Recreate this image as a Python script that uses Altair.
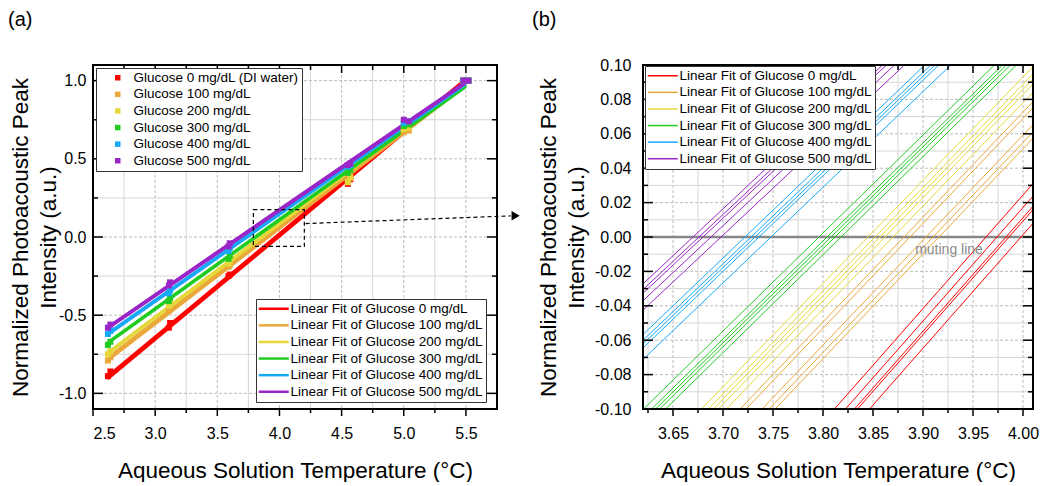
import altair as alt
import pandas as pd

FONT = "Liberation Sans"

# ---------------- data ----------------
PANEL_LABELS = ["(a)", "(b)"]
POINT_LABELS = ["Glucose 0 mg/dL (DI water)", "Glucose 100 mg/dL", "Glucose 200 mg/dL",
                "Glucose 300 mg/dL", "Glucose 400 mg/dL", "Glucose 500 mg/dL"]
FIT_LABELS = ["Linear Fit of Glucose 0 mg/dL", "Linear Fit of Glucose 100 mg/dL",
              "Linear Fit of Glucose 200 mg/dL", "Linear Fit of Glucose 300 mg/dL",
              "Linear Fit of Glucose 400 mg/dL", "Linear Fit of Glucose 500 mg/dL"]
COLORS = ["#FF0000", "#EBA83A", "#E6D83A", "#22CC22", "#18A8F8", "#9B26C8"]

# linear fits: slope per concentration, muting temperature (y = 0) per replicate
SLOPES = [0.660, 0.610, 0.600, 0.570, 0.556, 0.545]
MUTING_T = [
    [3.963, 3.974, 3.983, 3.986, 3.998],
    [3.881, 3.887, 3.903, 3.910, 3.916],
    [3.845, 3.852, 3.857, 3.862, 3.870],
    [3.796, 3.804, 3.808, 3.812, 3.818],
    [3.722, 3.728, 3.732, 3.736, 3.748],
    [3.670, 3.676, 3.680, 3.688, 3.698],
]
FIT_T_RANGE = [2.62, 5.50]

# measured points (two replicate sets)
TEMPS_A = [2.62, 3.11, 3.59, 4.55, 5.00, 5.48]
TEMPS_B = [2.64, 3.12, 3.60, 4.57, 5.04, 5.52]
POINTS_A = [
    [-0.89, -0.58, -0.25, 0.34, 0.68, 1.00],
    [-0.79, -0.47, -0.19, 0.36, 0.67, 1.00],
    [-0.75, -0.44, -0.17, 0.35, 0.69, 1.00],
    [-0.69, -0.41, -0.14, 0.41, 0.71, 1.00],
    [-0.62, -0.36, -0.09, 0.45, 0.73, 1.00],
    [-0.58, -0.31, -0.06, 0.46, 0.75, 1.00],
]
POINTS_B = [
    [-0.86, -0.55, -0.24, 0.37, 0.70, 1.00],
    [-0.77, -0.46, -0.18, 0.38, 0.68, 1.00],
    [-0.73, -0.43, -0.15, 0.38, 0.70, 1.00],
    [-0.67, -0.39, -0.12, 0.43, 0.72, 1.00],
    [-0.60, -0.34, -0.07, 0.46, 0.74, 1.00],
    [-0.56, -0.29, -0.04, 0.47, 0.74, 1.00],
]

# zoom region marked on panel (a) and the arrow to panel (b)
ZOOM_BOX_T = [3.79, 4.20]
ZOOM_BOX_Y = [-0.06, 0.175]
ARROW_T = [4.21, 5.86]
ARROW_Y = [0.086, 0.135]
ARROW_HEAD = [5.90, 0.136]

# axes
A_XDOM, A_YDOM = [2.5, 5.75], [-1.1, 1.1]
A_XMAJ = [2.5, 3.0, 3.5, 4.0, 4.5, 5.0, 5.5]
A_XMIN = [2.75, 3.25, 3.75, 4.25, 4.75, 5.25]
A_YMAJ = [-1.0, -0.5, 0.0, 0.5, 1.0]
A_YMIN = [-0.75, -0.25, 0.25, 0.75]
B_XDOM, B_YDOM = [3.62, 4.01], [-0.1, 0.1]
B_XMAJ = [3.65, 3.70, 3.75, 3.80, 3.85, 3.90, 3.95, 4.00]
B_XMIN = [3.625, 3.675, 3.725, 3.775, 3.825, 3.875, 3.925, 3.975]
B_YMAJ = [-0.10, -0.08, -0.06, -0.04, -0.02, 0.0, 0.02, 0.04, 0.06, 0.08, 0.10]
B_YMIN = [-0.09, -0.07, -0.05, -0.03, -0.01, 0.01, 0.03, 0.05, 0.07, 0.09]
MUTING_LABEL = ["muting line", 3.926, -0.0078]

X_TITLE = "Aqueous Solution Temperature (\u00b0C)"
Y_TITLE = ["Normalized Photoacoustic Peak", "Intensity (a.u.)"]

# ---------------- tables ----------------
fit_rows_a, fit_rows_b, pt_rows = [], [], []
for g in range(6):
    s = SLOPES[g]
    for r, t0 in enumerate(MUTING_T[g]):
        key = f"{g}-{r}"
        for t in FIT_T_RANGE:
            fit_rows_a.append({"fgroup": FIT_LABELS[g], "rep": key, "t": t, "y": s * (t - t0)})
        for yv in B_YDOM:
            fit_rows_b.append({"fgroup": FIT_LABELS[g], "rep": key, "t": t0 + yv / s, "y": yv})
    for temps, vals in ((TEMPS_A, POINTS_A[g]), (TEMPS_B, POINTS_B[g])):
        for t, v in zip(temps, vals):
            pt_rows.append({"pgroup": POINT_LABELS[g], "t": t, "y": v})
fit_a = pd.DataFrame(fit_rows_a)
fit_b = pd.DataFrame(fit_rows_b)
pts = pd.DataFrame(pt_rows)

MAJ_GRID = "#bdbdbd"
MIN_GRID = "#d6d6d6"
LINE_SYMBOL = "M-3,0H3"
AX_STYLE = dict(labelFont=FONT, labelFontSize=16, labelColor="black", titleFont=FONT,
                titleFontSize=22.5, titleFontWeight="normal", titleColor="black",
                domain=False, ticks=False, grid=False)


def x_axis(xmaj, fmt):
    return alt.Axis(values=xmaj, format=fmt, title=X_TITLE, labelPadding=16.5,
                    titlePadding=18, **AX_STYLE)


def y_axis(ymaj, fmt, lab_pad, title_pad):
    return alt.Axis(values=ymaj, title=Y_TITLE, titleLineHeight=28, labelPadding=lab_pad,
                    titlePadding=title_pad,
                    labelExpr=f"(datum.value < -1e-9 ? '-' : '') + format(abs(datum.value), '{fmt}')",
                    **AX_STYLE)


def panel_layers(xs, ys, AX, AY, xmaj, xmin, ymaj, ymin, W, H, label, lx):
    grid = []
    grid.append(alt.Chart(pd.DataFrame({"v": xmin})).mark_rule(color=MIN_GRID, strokeWidth=1).encode(
        x=alt.X("v:Q", scale=xs, axis=AX)))
    grid.append(alt.Chart(pd.DataFrame({"v": ymin})).mark_rule(color=MIN_GRID, strokeWidth=1).encode(
        y=alt.Y("v:Q", scale=ys, axis=AY)))
    grid.append(alt.Chart(pd.DataFrame({"v": xmaj})).mark_rule(color=MAJ_GRID, strokeWidth=1, strokeDash=[3, 2]).encode(
        x=alt.X("v:Q", scale=xs, axis=AX)))
    grid.append(alt.Chart(pd.DataFrame({"v": ymaj})).mark_rule(color=MAJ_GRID, strokeWidth=1, strokeDash=[3, 2]).encode(
        y=alt.Y("v:Q", scale=ys, axis=AY)))
    ticks = []
    for vals, ln in ((xmaj, 8), (xmin, 5)):
        d = pd.DataFrame({"v": vals})
        ticks.append(alt.Chart(d).mark_rule(color="black", strokeWidth=1.5).encode(
            x=alt.X("v:Q", scale=xs, axis=AX), y=alt.value(0), y2=alt.value(ln)))
        ticks.append(alt.Chart(d).mark_rule(color="black", strokeWidth=1.5).encode(
            x=alt.X("v:Q", scale=xs, axis=AX), y=alt.value(H), y2=alt.value(H + ln - 1)))
    for vals, ln in ((ymaj, 10), (ymin, 5)):
        d = pd.DataFrame({"v": vals})
        ticks.append(alt.Chart(d).mark_rule(color="black", strokeWidth=1.5).encode(
            y=alt.Y("v:Q", scale=ys, axis=AY), x=alt.value(0), x2=alt.value(ln)))
        ticks.append(alt.Chart(d).mark_rule(color="black", strokeWidth=1.5).encode(
            y=alt.Y("v:Q", scale=ys, axis=AY), x=alt.value(W), x2=alt.value(W - ln)))
    ticks.append(alt.Chart(pd.DataFrame({"a": [0]})).mark_rect(
        fill=None, filled=False, stroke="black", strokeWidth=2).encode(
        x=alt.value(0), x2=alt.value(W), y=alt.value(0), y2=alt.value(H)))
    ticks.append(alt.Chart(pd.DataFrame({"lab": [label]})).mark_text(
        font=FONT, fontSize=20, color="black", align="left", baseline="top").encode(
        x=alt.value(lx), y=alt.value(-55), text="lab:N"))
    return grid, ticks


def fit_legend(x, y, sw):
    return alt.Legend(title=None, orient="none", legendX=x, legendY=y, fillColor="white",
                      strokeColor="#333333", padding=3, labelFontSize=13.5, labelFont=FONT,
                      labelColor="black", labelLimit=400, symbolType=LINE_SYMBOL, symbolSize=100,
                      symbolStrokeWidth=sw, rowPadding=1.6, symbolOffset=8, labelOffset=10)


# ---------------- panel (a) ----------------
WA, HA = 404, 344
xa = alt.Scale(domain=A_XDOM, nice=False, zero=False)
ya = alt.Scale(domain=A_YDOM, nice=False, zero=False)
AXA = x_axis(A_XMAJ, ".1f")
AYA = y_axis(A_YMAJ, ".1f", 7, -2)

fits_a = alt.Chart(fit_a).mark_line(strokeWidth=2).encode(
    x=alt.X("t:Q", scale=xa, axis=AXA), y=alt.Y("y:Q", scale=ya, axis=AYA),
    detail="rep:N",
    color=alt.Color("fgroup:N", scale=alt.Scale(domain=FIT_LABELS, range=COLORS),
                    legend=fit_legend(163, 234, 2.5)))
points_a = alt.Chart(pts).mark_square(size=36, opacity=1).encode(
    x=alt.X("t:Q", scale=xa, axis=AXA), y=alt.Y("y:Q", scale=ya, axis=AYA),
    color=alt.Color("pgroup:N", scale=alt.Scale(domain=POINT_LABELS, range=COLORS),
                    legend=alt.Legend(title=None, orient="none", legendX=3, legendY=3,
                                      fillColor="white", strokeColor="#333333", padding=3,
                                      labelFontSize=13.5, labelFont=FONT, labelColor="black",
                                      labelLimit=400, symbolType="square", symbolSize=30,
                                      rowPadding=1.6, labelOffset=9, symbolOffset=12)))
box = alt.Chart(pd.DataFrame({"t1": [ZOOM_BOX_T[0]], "t2": [ZOOM_BOX_T[1]],
                              "y1": [ZOOM_BOX_Y[0]], "y2": [ZOOM_BOX_Y[1]]})).mark_rect(
    filled=False, fill=None, stroke="black", strokeWidth=1.2, strokeDash=[4, 3]).encode(
    x=alt.X("t1:Q", scale=xa, axis=AXA), x2="t2:Q",
    y=alt.Y("y1:Q", scale=ya, axis=AYA), y2="y2:Q")
arrow = alt.Chart(pd.DataFrame({"t": ARROW_T, "y": ARROW_Y})).mark_line(
    color="black", strokeWidth=1.2, strokeDash=[4, 3], clip=False).encode(
    x=alt.X("t:Q", scale=xa, axis=AXA), y=alt.Y("y:Q", scale=ya, axis=AYA))
head = alt.Chart(pd.DataFrame({"t": [ARROW_HEAD[0]], "y": [ARROW_HEAD[1]]})).mark_point(
    shape="triangle-right", filled=True, color="black", size=90, opacity=1).encode(
    x=alt.X("t:Q", scale=xa, axis=AXA), y=alt.Y("y:Q", scale=ya, axis=AYA))

grid_a, ticks_a = panel_layers(xa, ya, AXA, AYA, A_XMAJ, A_XMIN, A_YMAJ, A_YMIN, WA, HA,
                               PANEL_LABELS[0], -85)
panel_a = alt.layer(
    *grid_a, fits_a, points_a, box, arrow, head, *ticks_a,
).resolve_scale(color="independent").properties(width=WA, height=HA)

# ---------------- panel (b) ----------------
WB, HB = 390, 344
xb = alt.Scale(domain=B_XDOM, nice=False, zero=False)
yb = alt.Scale(domain=B_YDOM, nice=False, zero=False)
AXB = x_axis(B_XMAJ, ".2f")
AYB = y_axis(B_YMAJ, ".2f", 12, 6)

mute = alt.Chart(pd.DataFrame({"y": [0.0]})).mark_rule(color="#878787", strokeWidth=2.5).encode(
    y=alt.Y("y:Q", scale=yb, axis=AYB))
mute_txt = alt.Chart(pd.DataFrame({"txt": [MUTING_LABEL[0]], "t": [MUTING_LABEL[1]],
                                   "y": [MUTING_LABEL[2]]})).mark_text(
    font=FONT, fontSize=14, color="#8c8c8c").encode(
    x=alt.X("t:Q", scale=xb, axis=AXB), y=alt.Y("y:Q", scale=yb, axis=AYB), text="txt:N")
fits_b = alt.Chart(fit_b).mark_line(strokeWidth=1, clip=True).encode(
    x=alt.X("t:Q", scale=xb, axis=AXB), y=alt.Y("y:Q", scale=yb, axis=AYB),
    detail="rep:N",
    color=alt.Color("fgroup:N", scale=alt.Scale(domain=FIT_LABELS, range=COLORS),
                    legend=fit_legend(2, 1, 1.5)))

grid_b, ticks_b = panel_layers(xb, yb, AXB, AYB, B_XMAJ, B_XMIN, B_YMAJ, B_YMIN, WB, HB,
                               PANEL_LABELS[1], -111)
panel_b = alt.layer(
    *grid_b, mute, fits_b, mute_txt, *ticks_b,
).properties(width=WB, height=HB)

chart = alt.hconcat(panel_a, panel_b, spacing=12).resolve_scale(
    x="independent", y="independent", color="independent"
).properties(
    padding={"left": 0, "top": 2, "right": 0, "bottom": 0}
).configure(background="white").configure_view(stroke=None)

chart.save("out.html", embed_options={"renderer": "svg", "actions": False})
